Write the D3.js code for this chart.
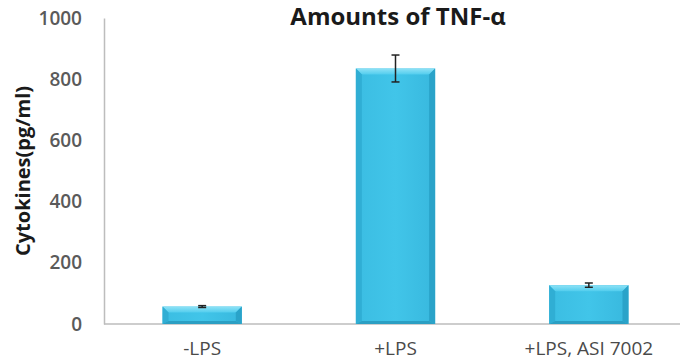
<!DOCTYPE html>
<html>
<head>
<meta charset="utf-8">
<script src="https://cdn.jsdelivr.net/npm/d3@7"></script>
<style>
  body { margin: 0; background: #fff; }
  svg { display: block; font-family: "Open Sans", sans-serif; }
</style>
</head>
<body>
<script>
// chart data
const categories = ["-LPS", "+LPS", "+LPS, ASI 7002"];
const values = [57, 835, 127];
const errors = [3, 44, 7];
const yTicks = [0, 200, 400, 600, 800, 1000];

const width = 680, height = 363;
const svg = d3.select("body").append("svg")
    .attr("width", width)
    .attr("height", height);

// gradients for the bevelled bars
const defs = svg.append("defs");
const face = defs.append("linearGradient").attr("id", "face")
    .attr("x1", 0).attr("x2", 1).attr("y1", 0).attr("y2", 0);
face.append("stop").attr("offset", "0%").attr("stop-color", "#3bbde2");
face.append("stop").attr("offset", "50%").attr("stop-color", "#41c5e9");
face.append("stop").attr("offset", "100%").attr("stop-color", "#38b8de");
const topG = defs.append("linearGradient").attr("id", "topBev")
    .attr("x1", 0).attr("x2", 0).attr("y1", 0).attr("y2", 1);
topG.append("stop").attr("offset", "0%").attr("stop-color", "#8fe2f6");
topG.append("stop").attr("offset", "100%").attr("stop-color", "#52cdee");

// scales
const x = d3.scaleBand()
    .domain(categories)
    .range([105.5, 685.5])
    .paddingInner(0.59)
    .paddingOuter(0.295);
const y = d3.scaleLinear().domain([0, 1000]).range([324, 18]);

// title
svg.append("text")
    .attr("x", 398).attr("y", 25)
    .attr("text-anchor", "middle")
    .attr("font-size", 24).attr("font-weight", 700)
    .attr("fill", "#1a1a1a")
    .text("Amounts of TNF-α");

// y axis title
svg.append("text")
    .attr("transform", "translate(30,171) rotate(-90)")
    .attr("text-anchor", "middle")
    .attr("font-size", 20).attr("font-weight", 700)
    .attr("fill", "#1a1a1a")
    .text("Cytokines(pg/ml)");

// y axis
const yAxis = svg.append("g")
    .attr("transform", "translate(104,0)")
    .call(d3.axisLeft(y).tickValues(yTicks).tickFormat(d3.format("d"))
        .tickSize(0).tickPadding(22));
yAxis.select(".domain").attr("stroke", "#bdbdbd").attr("stroke-width", 1.5);
yAxis.selectAll("text")
    .attr("font-size", 19).attr("font-family", "Open Sans, sans-serif")
    .attr("font-weight", 600).attr("fill", "#5a5a5a");

// x axis
const xAxis = svg.append("g")
    .attr("transform", "translate(0,324)")
    .call(d3.axisBottom(x).tickSize(0).tickPadding(18));
xAxis.select(".domain").attr("stroke", "#bdbdbd").attr("stroke-width", 1.5)
    .attr("d", "M104,0H680");
xAxis.selectAll("text")
    .attr("font-size", 19).attr("font-family", "Open Sans, sans-serif")
    .attr("fill", "#4a4a4a");

// bars with a bevelled look
const bev = 6;
const bars = svg.append("g").selectAll("g")
    .data(categories)
    .join("g");

bars.append("rect")
    .attr("x", d => x(d))
    .attr("y", (d, i) => y(values[i]))
    .attr("width", x.bandwidth())
    .attr("height", (d, i) => y(0) - y(values[i]))
    .attr("fill", "url(#face)");

// top bevel
bars.append("path")
    .attr("d", (d, i) => {
        const x0 = x(d), x1 = x(d) + x.bandwidth(), t = y(values[i]);
        return `M${x0},${t}H${x1}L${x1 - bev},${t + bev}H${x0 + bev}Z`;
    })
    .attr("fill", "url(#topBev)");
// left bevel
bars.append("path")
    .attr("d", (d, i) => {
        const x0 = x(d), t = y(values[i]), b = y(0);
        return `M${x0},${t}L${x0 + bev},${t + bev}V${b - 3}L${x0},${b}Z`;
    })
    .attr("fill", "#30aed4");
// right bevel
bars.append("path")
    .attr("d", (d, i) => {
        const x1 = x(d) + x.bandwidth(), t = y(values[i]), b = y(0);
        return `M${x1},${t}L${x1 - bev},${t + bev}V${b - 3}L${x1},${b}Z`;
    })
    .attr("fill", "#2aa3c9");
// bottom bevel
bars.append("path")
    .attr("d", (d, i) => {
        const x0 = x(d), x1 = x(d) + x.bandwidth(), b = y(0);
        return `M${x0},${b}L${x0 + bev},${b - 3}H${x1 - bev}L${x1},${b}Z`;
    })
    .attr("fill", "#2b9fc3");

// error bars
const cap = 4;
const err = svg.append("g")
    .attr("stroke", "#222")
    .attr("stroke-width", 1.5);
categories.forEach((c, i) => {
    const cx = x(c) + x.bandwidth() / 2;
    const hi = y(values[i] + errors[i]), lo = y(values[i] - errors[i]);
    err.append("line").attr("x1", cx).attr("x2", cx).attr("y1", hi).attr("y2", lo);
    err.append("line").attr("x1", cx - cap).attr("x2", cx + cap).attr("y1", hi).attr("y2", hi);
    err.append("line").attr("x1", cx - cap).attr("x2", cx + cap).attr("y1", lo).attr("y2", lo);
});
</script>
</body>
</html>
